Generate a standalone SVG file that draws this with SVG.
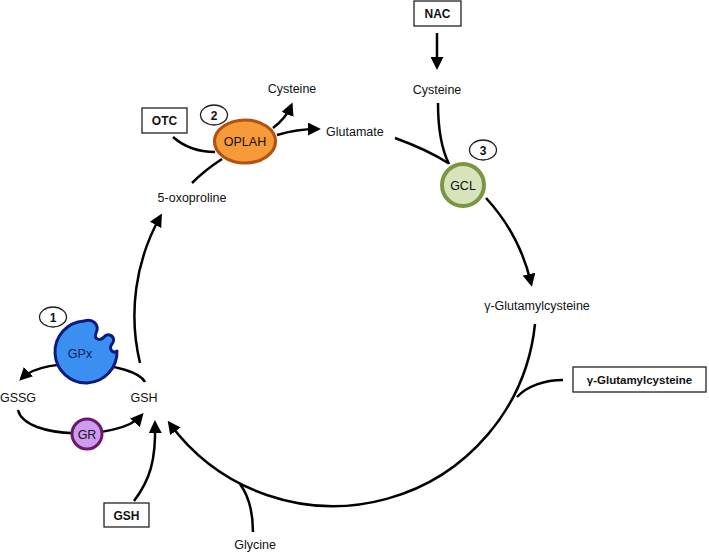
<svg xmlns="http://www.w3.org/2000/svg" width="709" height="553" viewBox="0 0 709 553">
<style>
text{font-family:"Liberation Sans",Arial,sans-serif;fill:#111;}
.lbl{font-size:12.5px;text-anchor:middle;}
.box rect{fill:#fff;stroke:#222;stroke-width:1.3;}
.box text{font-size:12px;font-weight:bold;text-anchor:middle;}
.badge ellipse{fill:#fff;stroke:#222;stroke-width:1.3;}
.badge text{font-size:12px;font-weight:bold;text-anchor:middle;}
.ln{fill:none;stroke:#000;stroke-width:2.5;}
.arr{marker-end:url(#ah);}
.nodet{font-size:12.5px;text-anchor:middle;}
</style>
<defs>
<marker id="ah" viewBox="0 0 10 10" refX="7" refY="5" markerWidth="13" markerHeight="13" markerUnits="userSpaceOnUse" orient="auto">
<path d="M0,0 L10,5 L0,10 z" fill="#000"/>
</marker>
</defs>
<rect width="709" height="553" fill="#fff"/>

<g id="connectors">
<path class="ln arr" d="M437,33 L437,66"/>
<path class="ln" d="M438,103 C438,130 442,150 449,164"/>
<path class="ln" d="M395,138 Q428,150 448,163"/>
<path class="ln arr" d="M486,198 Q520,235 531,283"/>
<path class="ln arr" d="M535,324 A203,203 0 0 1 170,424"/>
<path class="ln" d="M563,380 C545,380 527,386 517,397"/>
<path class="ln" d="M253,532 C253,512 248,495 240,484"/>
<path class="ln arr" d="M134,501 C150,480 156,460 155,424"/>
<path class="ln arr" d="M140,363 A203,203 0 0 1 160,217"/>
<path class="ln" d="M192,183 Q205,170 222,159"/>
<path class="ln" d="M173,137 Q190,152 215,152"/>
<path class="ln arr" d="M273,128 Q286,118 291,106"/>
<path class="ln arr" d="M277,135 Q297,129 317,129"/>
<path class="ln arr" d="M145,382 C135,362 45,355 22,378"/>
<path class="ln arr" d="M18,410 C25,440 120,440 141,416"/>
</g>

<g id="labels">
<text class="lbl" x="292" y="93">Cysteine</text>
<text class="lbl" x="326" y="136" style="text-anchor:start">Glutamate</text>
<text class="lbl" x="437" y="94">Cysteine</text>
<text class="lbl" x="537" y="310">γ-Glutamylcysteine</text>
<text class="lbl" x="192" y="202">5-oxoproline</text>
<text class="lbl" x="255" y="549">Glycine</text>
<text class="lbl" x="18" y="402">GSSG</text>
<text class="lbl" x="144" y="402">GSH</text>
</g>

<g id="NAC" class="box"><rect x="414" y="1" width="47" height="25"/><text x="437.5" y="18">NAC</text></g>
<g id="OTC" class="box"><rect x="142" y="108" width="45" height="25"/><text x="164.5" y="125">OTC</text></g>
<g id="GSHbox" class="box"><rect x="104" y="503" width="45" height="24"/><text x="126.5" y="519.5">GSH</text></g>
<g id="GGCbox" class="box"><rect x="573" y="367" width="133" height="25"/><text x="639.5" y="384" style="font-size:11.5px">γ-Glutamylcysteine</text></g>

<g id="OPLAH">
<ellipse cx="245" cy="141.5" rx="30.5" ry="21.5" fill="#f79a3a" stroke="#b3510f" stroke-width="3.2"/>
<text class="nodet" x="245" y="146">OPLAH</text>
</g>
<g id="GCL">
<circle cx="463" cy="185" r="21" fill="#d6e3bb" stroke="#7a9640" stroke-width="4"/>
<text class="nodet" x="463" y="189.5">GCL</text>
</g>
<g id="GR">
<circle cx="87" cy="434" r="15" fill="#cf9bee" stroke="#6a1a6c" stroke-width="3"/>
<text class="nodet" x="87" y="438.5">GR</text>
</g>
<g id="GPx">
<path d="M84,321 C93,318 100,325 96,333 C93,340 101,341 104,337 C109,331 117,338 112,344 C108,349 113,354 117,351 A31,31 0 1 1 84,321 Z" fill="#3b8ff0" stroke="#0d1a7e" stroke-width="3" stroke-linejoin="round"/>
<text class="nodet" x="80" y="358" style="fill:#0b1f5c">GPx</text>
</g>

<g id="badge1" class="badge"><ellipse cx="53" cy="317" rx="13.5" ry="10"/><text x="53" y="321.5">1</text></g>
<g id="badge2" class="badge"><ellipse cx="214" cy="115" rx="13.5" ry="10"/><text x="214" y="119.5">2</text></g>
<g id="badge3" class="badge"><ellipse cx="483" cy="150" rx="13.5" ry="10"/><text x="483" y="154.5">3</text></g>
</svg>
